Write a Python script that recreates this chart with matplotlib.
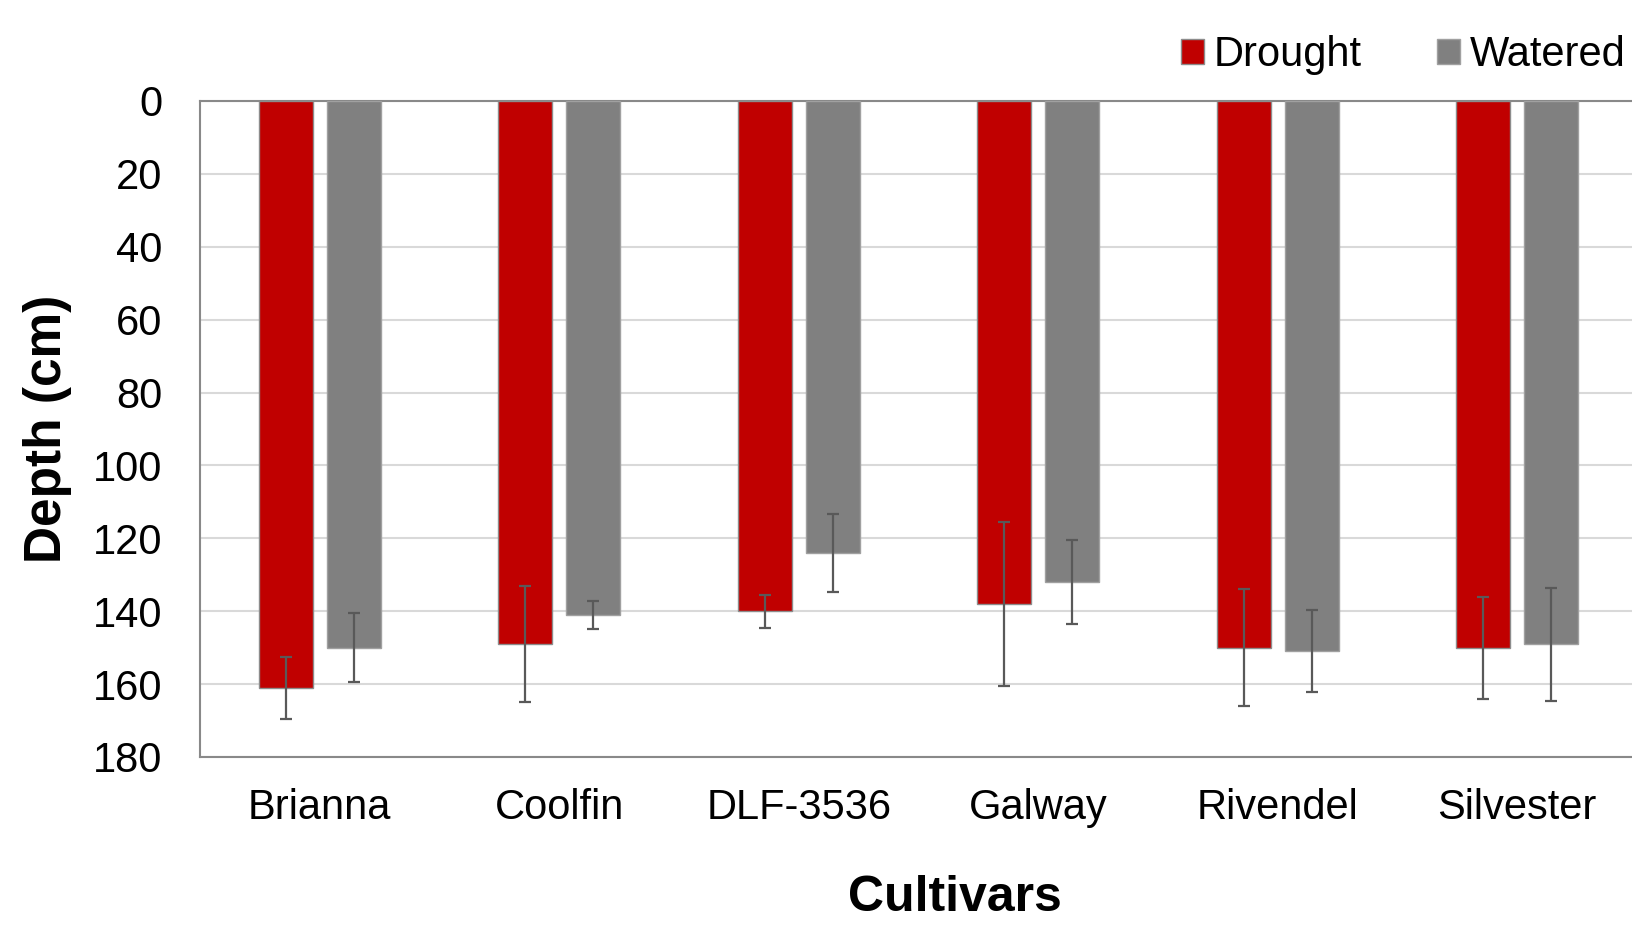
import matplotlib.pyplot as plt
import numpy as np
from matplotlib.patches import Patch

# ------------------------------------------------------------
# Rooting depth per cultivar, drought vs watered
# ------------------------------------------------------------

plt.rcParams["font.family"] = ["Liberation Sans", "DejaVu Sans"]

CULTIVARS = ["Brianna", "Coolfin", "DLF-3536", "Galway", "Rivendel", "Silvester"]

DROUGHT = [161, 149, 140, 138, 150, 150]
DROUGHT_ERR = [8.5, 16, 4.5, 22.5, 16, 14]

WATERED = [150, 141, 124, 132, 151, 149]
WATERED_ERR = [9.5, 3.8, 10.8, 11.6, 11.2, 15.5]

Y_TICKS = [0, 20, 40, 60, 80, 100, 120, 140, 160, 180]

RED = "#C00000"
GREY = "#808080"
ERR_COLOR = "#595959"


def main() -> None:
    fig = plt.figure(figsize=(16.32, 9.26), dpi=100)
    ax = fig.add_axes([200 / 1632, 1 - 757 / 926, 1437 / 1632, (757 - 101) / 926])

    x = np.arange(len(CULTIVARS))
    width = 0.226
    offset = 0.142

    err_kw = {"ecolor": ERR_COLOR, "elinewidth": 1.6, "capsize": 4.3, "capthick": 1.6}

    ax.bar(x - offset, DROUGHT, width, color=RED, edgecolor="#8c8c8c",
           linewidth=1.0, yerr=DROUGHT_ERR, error_kw=err_kw, zorder=3)
    ax.bar(x + offset, WATERED, width, color=GREY, edgecolor="#a0a0a0",
           linewidth=1.0, yerr=WATERED_ERR, error_kw=err_kw, zorder=3)

    ax.set_xlim(-0.5, len(CULTIVARS) - 0.5)
    ax.set_ylim(180, 0)
    ax.set_yticks(Y_TICKS)
    ax.set_xticks(x)
    ax.set_xticklabels(CULTIVARS)

    ax.tick_params(axis="both", length=0, labelsize=30)
    ax.tick_params(axis="y", pad=27)
    ax.tick_params(axis="x", pad=22)

    ax.yaxis.grid(True, color="#d9d9d9", linewidth=1.5, zorder=0)
    ax.set_axisbelow(True)

    for side, spine in ax.spines.items():
        spine.set_color("#898989")
        spine.set_linewidth(1.5)
    ax.spines["right"].set_visible(False)

    fig.text(47 / 1632, 1 - 429 / 926, "Depth (cm)", rotation=90,
             ha="center", va="center", fontsize=37, fontweight="bold")
    fig.text(955 / 1632, 1 - 898 / 926, "Cultivars",
             ha="center", va="center", fontsize=36, fontweight="bold")

    handles = [
        Patch(facecolor=RED, edgecolor="#8c8c8c", linewidth=1.0),
        Patch(facecolor=GREY, edgecolor="#a0a0a0", linewidth=1.0),
    ]
    fig.legend(handles, ["Drought", "Watered"], ncol=2, frameon=False,
               loc="center right", bbox_to_anchor=(1626 / 1632, 1 - 55 / 926),
               fontsize=30, handlelength=0.55, handleheight=0.55,
               handletextpad=0.25, columnspacing=1.8, borderpad=0,
               borderaxespad=0)

    fig.savefig("out.png", dpi=100)
    plt.close(fig)


if __name__ == "__main__":
    main()
